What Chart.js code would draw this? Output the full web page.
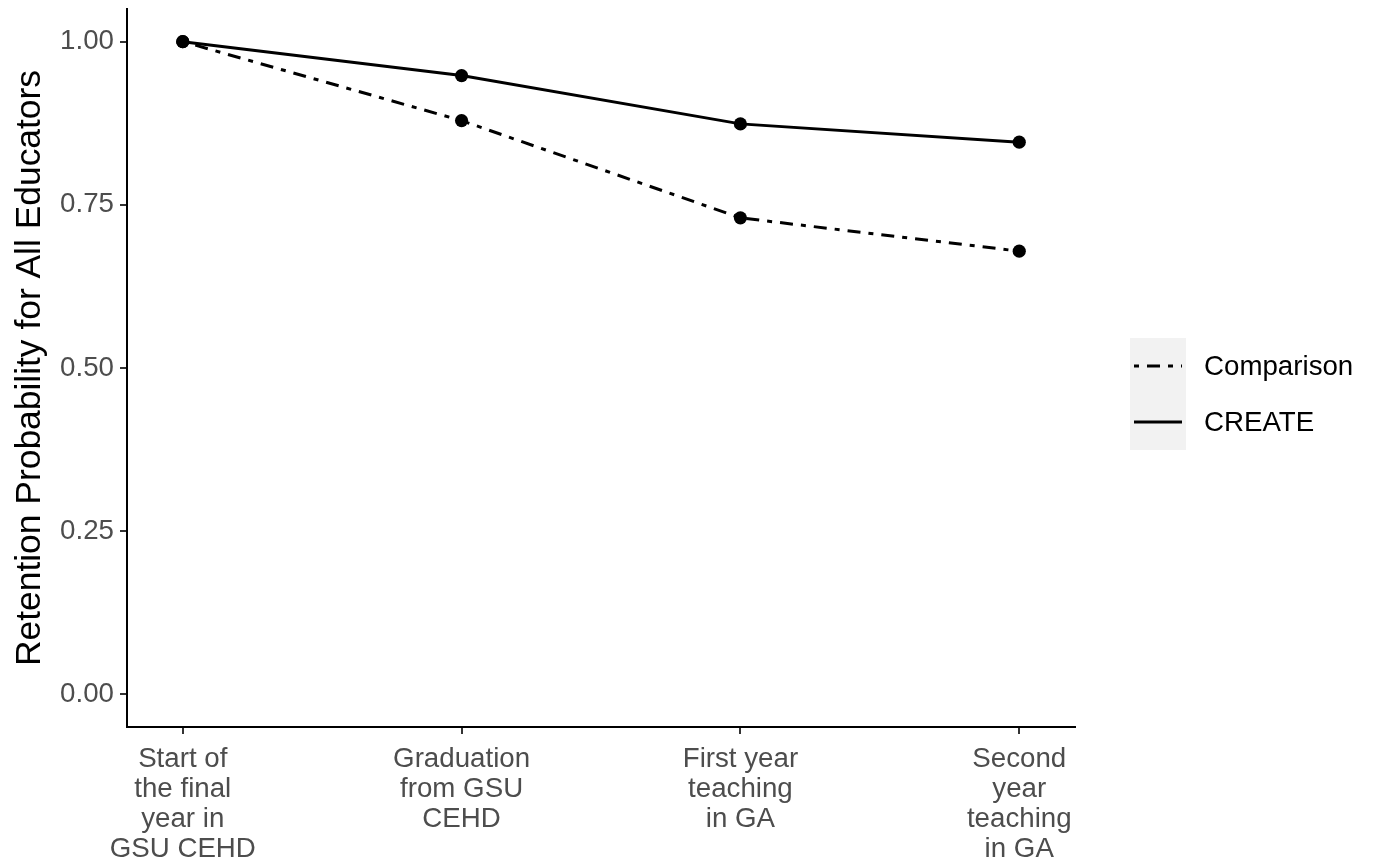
<!DOCTYPE html>
<html>
<head>
<meta charset="utf-8">
<script src="https://cdn.jsdelivr.net/npm/chart.js@4/dist/chart.umd.min.js"></script>
<style>
  html, body { margin: 0; padding: 0; background: #ffffff; }
  #wrap { width: 1374px; height: 865px; }
</style>
</head>
<body>
<div id="wrap"><canvas id="c" width="1374" height="865"></canvas></div>
<script>
// ---- data ----
const categories = [
  ["Start of", "the final", "year in", "GSU CEHD"],
  ["Graduation", "from GSU", "CEHD"],
  ["First year", "teaching", "in GA"],
  ["Second", "year", "teaching", "in GA"]
];
const seriesNames = ["Comparison", "CREATE"];
const comparisonValues = [1.00, 0.879, 0.730, 0.679];
const createValues = [1.00, 0.948, 0.874, 0.846];
const yTickValues = [0, 0.25, 0.5, 0.75, 1.0];
const yTitle = "Retention Probability for All Educators";

const FONT = "'Liberation Sans', Arial, sans-serif";
const dotdash = [5, 8, 13, 8];

function toPoints(vals) { return vals.map((v, i) => ({ x: i, y: v })); }

const legendPlugin = {
  id: 'ggLegend',
  afterDraw(chart) {
    const ctx = chart.ctx;
    const boxX = 1130, boxY = 338, boxW = 56, keyH = 56;
    const n = chart.data.datasets.length;
    ctx.save();
    ctx.fillStyle = '#F2F2F2';
    ctx.fillRect(boxX, boxY, boxW, keyH * n);
    chart.data.datasets.forEach((ds, i) => {
      const cy = boxY + keyH * i + keyH / 2;
      ctx.beginPath();
      ctx.setLineDash(ds.borderDash || []);
      ctx.lineDashOffset = 0;
      ctx.lineWidth = ds.borderWidth;
      ctx.strokeStyle = ds.borderColor;
      ctx.lineCap = 'butt';
      ctx.moveTo(boxX + 4, cy);
      ctx.lineTo(boxX + boxW - 4, cy);
      ctx.stroke();
      ctx.setLineDash([]);
      ctx.fillStyle = '#000000';
      ctx.font = '27.7px ' + FONT;
      ctx.textBaseline = 'middle';
      ctx.textAlign = 'left';
      ctx.fillText(ds.label, boxX + boxW + 18, cy + 1);
    });
    ctx.restore();
  }
};

new Chart(document.getElementById('c'), {
  type: 'line',
  data: {
    datasets: [
      {
        label: seriesNames[0],
        data: toPoints(comparisonValues),
        borderColor: '#000000',
        backgroundColor: '#000000',
        borderWidth: 3,
        borderDash: dotdash,
        pointRadius: 6.6,
        pointBorderWidth: 0,
        pointBackgroundColor: '#000000',
        tension: 0,
        fill: false
      },
      {
        label: seriesNames[1],
        data: toPoints(createValues),
        borderColor: '#000000',
        backgroundColor: '#000000',
        borderWidth: 3,
        pointRadius: 6.6,
        pointBorderWidth: 0,
        pointBackgroundColor: '#000000',
        tension: 0,
        fill: false
      }
    ]
  },
  options: {
    responsive: false,
    animation: false,
    devicePixelRatio: 1,
    layout: { padding: { left: 0, top: 9, right: 299, bottom: 0 } },
    plugins: {
      legend: { display: false },
      tooltip: { enabled: false }
    },
    scales: {
      x: {
        type: 'linear',
        min: -0.2,
        max: 3.2,
        afterBuildTicks(scale) { scale.ticks = categories.map((c, i) => ({ value: i })); },
        afterFit(scale) { scale.height = 138; scale.paddingLeft = 0; scale.paddingRight = 0; },
        ticks: {
          autoSkip: false,
          maxRotation: 0,
          minRotation: 0,
          padding: 10,
          color: '#4D4D4D',
          font: { family: FONT, size: 27.7, lineHeight: 1.09 },
          callback: (v) => categories[v]
        },
        grid: {
          drawOnChartArea: false,
          drawTicks: true,
          tickLength: 7,
          color: '#333333',
          lineWidth: 2
        },
        border: { display: true, color: '#000000', width: 2 }
      },
      y: {
        type: 'linear',
        min: -0.05,
        max: 1.05,
        afterBuildTicks(scale) { scale.ticks = yTickValues.map(v => ({ value: v })); },
        afterFit(scale) { scale.width = 127; scale.paddingTop = 0; scale.paddingBottom = 0; },
        ticks: {
          padding: 6,
          color: '#4D4D4D',
          font: { family: FONT, size: 27.7 },
          callback: (v) => Number(v).toFixed(2)
        },
        grid: {
          drawOnChartArea: false,
          drawTicks: true,
          tickLength: 7,
          color: '#333333',
          lineWidth: 2
        },
        border: { display: true, color: '#000000', width: 2 },
        title: {
          display: true,
          text: yTitle,
          color: '#000000',
          font: { family: FONT, size: 35.4 },
          padding: { top: 9, bottom: 0 }
        }
      }
    }
  },
  plugins: [legendPlugin]
});
</script>
</body>
</html>
